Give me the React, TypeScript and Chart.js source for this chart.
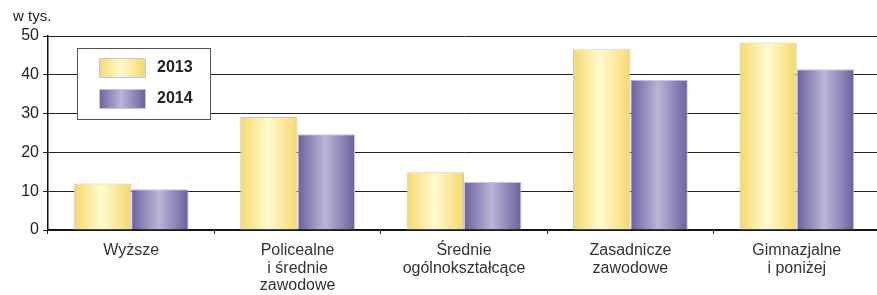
import React, { useEffect, useRef } from "react";
import { Chart, registerables } from "chart.js";

Chart.register(...registerables);

const categories: string[][] = [
  ["Wyższe"],
  ["Policealne", "i średnie", "zawodowe"],
  ["Średnie", "ogólnokształcące"],
  ["Zasadnicze", "zawodowe"],
  ["Gimnazjalne", "i poniżej"],
];
const seriesLabels = ["2013", "2014"];
const values2013 = [12.0, 29.1, 14.9, 46.6, 48.3];
const values2014 = [10.5, 24.7, 12.4, 38.7, 41.4];
const yMin = 0;
const yMax = 50;
const yStep = 10;
const unitLabel = "w tys.";

const CAT_PCT = 0.69;
const FONT = "'Liberation Sans', Arial, sans-serif";
const yellowStops = ["#f6d86c", "#fffbcf", "#f6d86c"];
const purpleStops = ["#6a619c", "#bcb5d8", "#6a619c"];
const barBorder = "#c9c3e3";

function makeGradient(ctx: CanvasRenderingContext2D, left: number, width: number, stops: string[]) {
  const g = ctx.createLinearGradient(left, 0, left + width, 0);
  g.addColorStop(0, stops[0]);
  g.addColorStop(0.48, stops[1]);
  g.addColorStop(1, stops[2]);
  return g;
}

function barFill(stops: string[]) {
  return (c: any) => {
    const chart = c.chart;
    const xs = chart.scales && chart.scales.x;
    if (!chart.chartArea || !xs || c.type !== "data" || !xs.width) return stops[0];
    const catW = xs.width / categories.length;
    const groupW = catW * CAT_PCT;
    const barW = groupW / 2;
    const center = xs.getPixelForValue(c.dataIndex);
    const left = center - groupW / 2 + c.datasetIndex * barW;
    return makeGradient(chart.ctx, left, barW, stops);
  };
}

const extrasPlugin = {
  id: "extras",
  afterDraw(chart: any) {
    const ctx: CanvasRenderingContext2D = chart.ctx;
    ctx.save();
    ctx.fillStyle = "#222";
    ctx.font = `15px ${FONT}`;
    ctx.textBaseline = "alphabetic";
    ctx.textAlign = "left";
    ctx.fillText(unitLabel, 13, 21);

    ctx.fillStyle = "#ffffff";
    ctx.fillRect(77, 48, 133, 71);
    ctx.strokeStyle = "#555";
    ctx.lineWidth = 1;
    ctx.strokeRect(77.5, 48.5, 133, 71);

    const items = [
      { label: seriesLabels[0], stops: yellowStops, y: 58 },
      { label: seriesLabels[1], stops: purpleStops, y: 89 },
    ];
    for (const it of items) {
      ctx.fillStyle = makeGradient(ctx, 99, 46, it.stops);
      ctx.fillRect(99, it.y, 46, 19);
      ctx.strokeStyle = barBorder;
      ctx.strokeRect(99.5, it.y + 0.5, 46, 19);
      ctx.fillStyle = "#222";
      ctx.font = `bold 16px ${FONT}`;
      ctx.textBaseline = "middle";
      ctx.fillText(it.label, 157, it.y + 10);
    }
    ctx.restore();
  },
};

export default function App() {
  const ref = useRef<HTMLCanvasElement | null>(null);
  useEffect(() => {
    if (!ref.current) return;
    const chart = new Chart(ref.current, {
      type: "bar",
      data: {
        labels: categories as any,
        datasets: [
          {
            label: seriesLabels[0],
            data: values2013,
            backgroundColor: barFill(yellowStops) as any,
            borderColor: barBorder,
            borderWidth: 1,
          },
          {
            label: seriesLabels[1],
            data: values2014,
            backgroundColor: barFill(purpleStops) as any,
            borderColor: barBorder,
            borderWidth: 1,
          },
        ],
      },
      options: {
        animation: false,
        responsive: true,
        maintainAspectRatio: false,
        layout: { padding: { top: 36, right: 0, left: 0, bottom: 0 } },
        plugins: {
          legend: { display: false },
          tooltip: { enabled: false },
        },
        datasets: { bar: { categoryPercentage: CAT_PCT, barPercentage: 1 } },
        scales: {
          x: {
            grid: {
              display: true,
              offset: true,
              drawOnChartArea: false,
              drawTicks: true,
              tickLength: 4,
              color: "#222",
            },
            border: { display: true, color: "#111", width: 1.5 },
            ticks: {
              color: "#333",
              font: { family: FONT, size: 16, lineHeight: 1.1 },
              padding: 8,
              maxRotation: 0,
              autoSkip: false,
            },
            afterFit: (s: any) => {
              s.height = 65;
            },
          },
          y: {
            min: yMin,
            max: yMax,
            ticks: {
              stepSize: yStep,
              color: "#222",
              font: { family: FONT, size: 16 },
              padding: 4,
            },
            grid: { color: "#222", lineWidth: 1, tickLength: 5, drawTicks: true },
            border: { display: true, color: "#111", width: 1.5 },
            afterFit: (s: any) => {
              s.width = 48;
            },
          },
        },
      },
      plugins: [extrasPlugin],
    });
    return () => chart.destroy();
  }, []);
  return (
    <div style={{ position: "fixed", left: 0, top: 0, width: 877, height: 295, overflow: "hidden", background: "#fff" }}>
      <div style={{ position: "absolute", left: 0, top: 0, width: 880, height: 295 }}>
        <canvas ref={ref} />
      </div>
    </div>
  );
}
